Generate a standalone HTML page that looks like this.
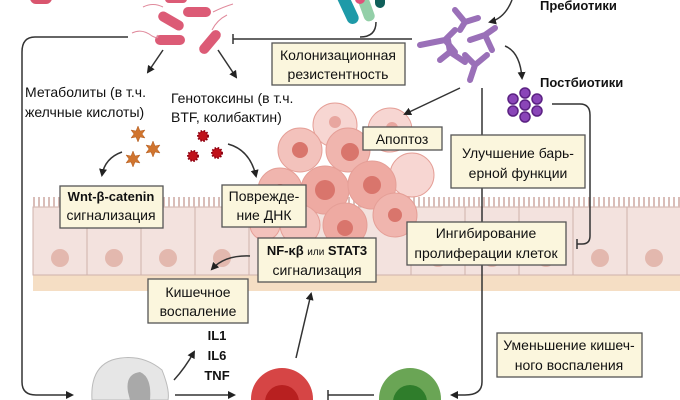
<!DOCTYPE html>
<html><head><meta charset="utf-8"><style>
html,body{margin:0;padding:0;background:#fff;overflow:hidden;}
svg{display:block;}
text{font-family:"Liberation Sans",sans-serif;}
.t{fill:#111;}
.b{fill:#fbf6dd;stroke:#555;stroke-width:1.3;}
.l{fill:none;stroke:#333;stroke-width:1.5;}
</style></head><body>
<svg width="680" height="400" viewBox="0 0 680 400" xmlns="http://www.w3.org/2000/svg">
<defs>
<marker id="a" markerWidth="8" markerHeight="8" refX="6" refY="4" orient="auto" markerUnits="userSpaceOnUse"><path d="M0,0 L8,4 L0,8 Z" fill="#222"/></marker>
</defs>
<!-- epithelium -->
<rect x="33" y="275" width="647" height="16" fill="#f5dec4"/>
<g fill="#f3e2de" stroke="#cfb1ab" stroke-width="1">
<rect x="33" y="207" width="54" height="68"/><rect x="87" y="207" width="54" height="68"/><rect x="141" y="207" width="54" height="68"/><rect x="195" y="207" width="54" height="68"/><rect x="249" y="207" width="54" height="68"/><rect x="303" y="207" width="54" height="68"/><rect x="357" y="207" width="54" height="68"/><rect x="411" y="207" width="54" height="68"/><rect x="465" y="207" width="54" height="68"/><rect x="519" y="207" width="54" height="68"/><rect x="573" y="207" width="54" height="68"/><rect x="627" y="207" width="54" height="68"/>
</g>
<g fill="#e3b8ae">
<circle cx="60" cy="258" r="9"/><circle cx="114" cy="258" r="9"/><circle cx="168" cy="258" r="9"/><circle cx="222" cy="258" r="9"/><circle cx="438" cy="258" r="9"/><circle cx="492" cy="258" r="9"/><circle cx="546" cy="258" r="9"/><circle cx="600" cy="258" r="9"/><circle cx="654" cy="258" r="9"/>
</g>
<path d="M33,202 H680" stroke="#d9bdb8" stroke-width="10" stroke-dasharray="2 3"/>
<!-- tumor -->
<g stroke="#e59f97" stroke-width="1">
<circle cx="335" cy="125" r="22" fill="#f7d6d2"/>
<circle cx="390" cy="130" r="22" fill="#f7d6d2"/>
<circle cx="412" cy="175" r="22" fill="#f7d6d2"/>
<circle cx="300" cy="150" r="22" fill="#f3c2bc"/>
<circle cx="348" cy="150" r="22" fill="#f0b5ae"/>
<circle cx="280" cy="190" r="22" fill="#f0b5ae"/>
<circle cx="325" cy="190" r="24" fill="#eeaaa2"/>
<circle cx="372" cy="185" r="24" fill="#eeaaa2"/>
<circle cx="395" cy="215" r="22" fill="#f0b5ae"/>
<circle cx="345" cy="225" r="22" fill="#eeaaa2"/>
<circle cx="300" cy="225" r="20" fill="#f3c2bc"/>
<circle cx="265" cy="225" r="15" fill="#f3c2bc"/>
</g>
<g fill="#d9756c">
<circle cx="300" cy="150" r="8"/><circle cx="350" cy="152" r="9"/><circle cx="325" cy="190" r="10"/><circle cx="372" cy="185" r="9"/><circle cx="280" cy="192" r="8"/><circle cx="345" cy="228" r="8"/><circle cx="395" cy="215" r="7"/><circle cx="335" cy="122" r="6" opacity=".5"/><circle cx="392" cy="128" r="6" opacity=".5"/>
</g>
<!-- bacteria -->
<rect x="30" y="-8" width="22" height="12" rx="6" fill="#d9556e"/>
<g fill="#dc5b76">
<rect x="183" y="7" width="28" height="10" rx="5"/><rect x="157" y="16" width="28" height="10" rx="5" transform="rotate(30 171 21)"/><rect x="155" y="35" width="30" height="10" rx="5"/><rect x="196" y="37" width="28" height="10" rx="5" transform="rotate(-50 210 42)"/><rect x="165" y="-5" width="22" height="8" rx="4"/>
</g>
<g fill="none" stroke="#e08a9c" stroke-width="1"><path d="M132,33 q10,-5 20,3 q8,4 5,-1"/><path d="M143,7 q10,-5 20,0"/><path d="M212,30 q5,-10 15,-15"/><path d="M213,12 q10,-5 20,-8"/></g>
<!-- probiotics rods -->
<g><rect x="342" y="-10" width="12" height="35" rx="6" fill="#1e9aa8" transform="rotate(-25 348 8)"/><rect x="360" y="-10" width="11" height="32" rx="5" fill="#93cfa8" transform="rotate(-20 365 6)"/><rect x="375" y="-10" width="10" height="18" rx="5" fill="#0f5f5a"/><rect x="355" y="-8" width="10" height="12" rx="5" fill="#e0527a"/></g>
<!-- prebiotics -->
<g stroke="#9a70b8" stroke-width="6" stroke-linecap="round" fill="none">
<path d="M420,45 L445,40 M445,40 L455,30 M445,40 L455,52"/>
<path d="M440,60 L450,52 L465,62 M450,52 L448,40"/>
<path d="M470,40 L485,35 L495,28 M485,35 L492,50"/>
<path d="M465,55 L475,65 L470,80 M475,65 L487,55"/>
<path d="M455,10 L465,22 L478,18 M465,22 L460,30"/>
</g>
<!-- postbiotics -->
<g fill="#8a45b8" stroke="#5b2283" stroke-width="1.5">
<circle cx="513" cy="99" r="5"/><circle cx="525" cy="93" r="5"/><circle cx="537" cy="99" r="5"/><circle cx="513" cy="111" r="5"/><circle cx="525" cy="105" r="5"/><circle cx="537" cy="111" r="5"/><circle cx="525" cy="117" r="5"/>
</g>
<!-- stars & red dots -->
<g fill="#d0742e" stroke="#b05a1e" stroke-width=".5">
<polygon points="138,126 140,131 145,130 142,134 145,138 140,137 138,142 136,137 131,138 134,134 131,130 136,131"/>
<polygon points="153,141 155,146 160,145 157,149 160,153 155,152 153,157 151,152 146,153 149,149 146,145 151,146"/>
<polygon points="133,151 135,156 140,155 137,159 140,163 135,162 133,167 131,162 126,163 129,159 126,155 131,156"/>
</g>
<g fill="#c0111a" stroke="#8a0010" stroke-width="2" stroke-dasharray="1.5 1.5"><circle cx="203" cy="136" r="5"/><circle cx="193" cy="156" r="5"/><circle cx="217" cy="153" r="5"/></g>
<!-- cells bottom -->
<path d="M92,400 Q90,368 112,360 Q140,352 162,370 Q170,390 168,400 Z" fill="#e6e6e6" stroke="#bbb"/>
<path d="M128,392 Q125,374 140,372 Q152,377 150,400 L130,400 Z" fill="#a9a9a9"/>
<circle cx="282" cy="399" r="31" fill="#d64545"/><circle cx="282" cy="402" r="17" fill="#b82020"/>
<circle cx="410" cy="399" r="31" fill="#6aa555"/><circle cx="410" cy="402" r="17" fill="#2f7d2b"/>
<!-- connectors -->
<path class="l" d="M128,37 H35 Q22,37 22,52 V382 Q22,395 36,395 H72" marker-end="url(#a)"/>
<path class="l" d="M233,39 H412 M233,34 V44"/>
<path class="l" d="M376,22 Q376,37 360,37"/>
<path class="l" d="M163,50 L148,72" marker-end="url(#a)"/>
<path class="l" d="M218,50 L236,77" marker-end="url(#a)"/>
<path class="l" d="M122,152 Q105,158 102,175" marker-end="url(#a)"/>
<path class="l" d="M228,144 Q250,150 256,176" marker-end="url(#a)"/>
<path class="l" d="M512,0 Q505,18 490,22" marker-end="url(#a)"/>
<path class="l" d="M505,46 Q520,52 522,78" marker-end="url(#a)"/>
<path class="l" d="M460,88 L405,114" marker-end="url(#a)"/>
<path class="l" d="M482,88 V382 Q482,395 465,395 H452" marker-end="url(#a)"/>
<path class="l" d="M552,104 H580 Q590,104 590,115 V236 Q590,244 582,244 H577 M577,239 V249"/>
<path class="l" d="M250,256 Q225,255 212,269" marker-end="url(#a)"/>
<path class="l" d="M174,380 Q185,368 194,352" marker-end="url(#a)"/>
<path class="l" d="M296,358 L311,294" marker-end="url(#a)"/>
<path class="l" d="M175,395 H234" marker-end="url(#a)"/>
<path class="l" d="M374,395 H328 M328,390 V400"/>
<!-- boxes -->
<rect class="b" x="272" y="43" width="133" height="42"/>
<text class="t" x="338" y="60" font-size="14" text-anchor="middle">Колонизационная</text>
<text class="t" x="338" y="79" font-size="14" text-anchor="middle">резистентность</text>
<text class="t" x="25" y="97" font-size="14">Метаболиты (в т.ч.</text>
<text class="t" x="25" y="117" font-size="14">желчные кислоты)</text>
<text class="t" x="171" y="103" font-size="14">Генотоксины (в т.ч.</text>
<text class="t" x="171" y="122" font-size="14">BTF, колибактин)</text>
<text class="t" x="540" y="10" font-size="13" font-weight="bold">Пребиотики</text>
<text class="t" x="540" y="87" font-size="13" font-weight="bold">Постбиотики</text>
<rect class="b" x="363" y="127" width="79" height="23"/>
<text class="t" x="402" y="144" font-size="14" text-anchor="middle">Апоптоз</text>
<rect class="b" x="451" y="135" width="134" height="53"/>
<text class="t" x="518" y="158" font-size="14" text-anchor="middle">Улучшение барь-</text>
<text class="t" x="518" y="178" font-size="14" text-anchor="middle">ерной функции</text>
<rect class="b" x="60" y="186" width="103" height="42"/>
<text class="t" x="111" y="201" font-size="13" font-weight="bold" text-anchor="middle">Wnt-β-catenin</text>
<text class="t" x="111" y="220" font-size="14" text-anchor="middle">сигнализация</text>
<rect class="b" x="222" y="185" width="84" height="42"/>
<text class="t" x="264" y="201" font-size="14" text-anchor="middle">Поврежде-</text>
<text class="t" x="264" y="220" font-size="14" text-anchor="middle">ние ДНК</text>
<rect class="b" x="407" y="222" width="159" height="43"/>
<text class="t" x="486" y="238" font-size="14" text-anchor="middle">Ингибирование</text>
<text class="t" x="486" y="258" font-size="14" text-anchor="middle">пролиферации клеток</text>
<rect class="b" x="258" y="238" width="118" height="44"/>
<text class="t" x="317" y="255" font-size="13" text-anchor="middle"><tspan font-weight="bold">NF-κβ</tspan> <tspan font-size="10">или</tspan> <tspan font-weight="bold">STAT3</tspan></text>
<text class="t" x="317" y="275" font-size="14" text-anchor="middle">сигнализация</text>
<rect class="b" x="148" y="279" width="100" height="44"/>
<text class="t" x="198" y="297" font-size="14" text-anchor="middle">Кишечное</text>
<text class="t" x="198" y="316" font-size="14" text-anchor="middle">воспаление</text>
<g font-size="13" font-weight="bold" text-anchor="middle" fill="#111"><text x="217" y="340">IL1</text><text x="217" y="360">IL6</text><text x="217" y="380">TNF</text></g>
<rect class="b" x="497" y="333" width="145" height="44"/>
<text class="t" x="569" y="350" font-size="14" text-anchor="middle">Уменьшение кишеч-</text>
<text class="t" x="569" y="370" font-size="14" text-anchor="middle">ного воспаления</text>
</svg>
</body></html>
